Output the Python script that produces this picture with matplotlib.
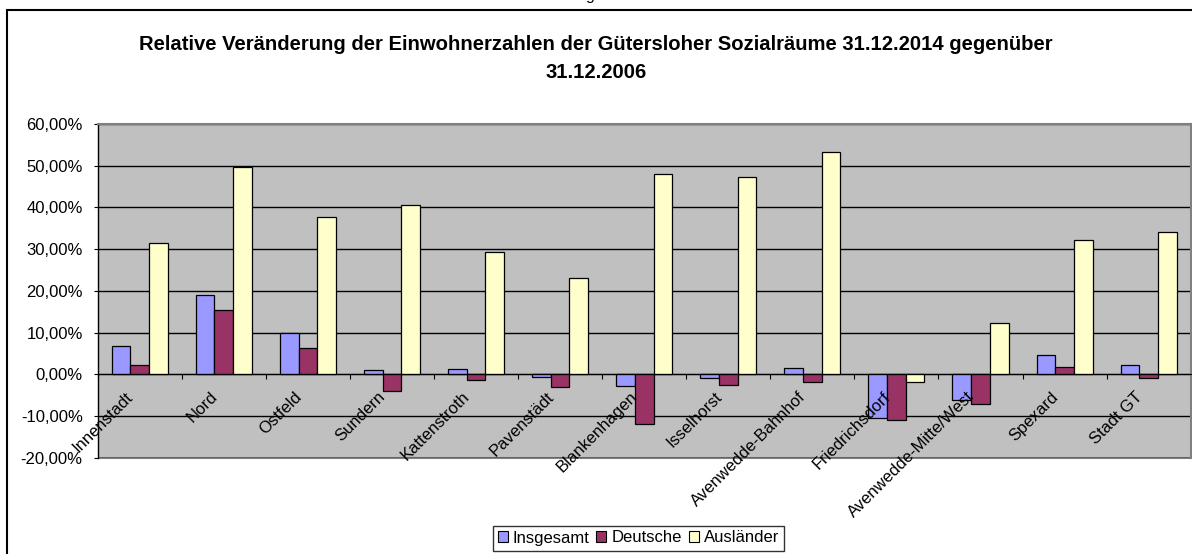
import matplotlib
matplotlib.use("Agg")
import matplotlib.pyplot as plt
from matplotlib.patches import Patch, Rectangle
from matplotlib.ticker import FuncFormatter, FixedLocator
from matplotlib.transforms import offset_copy
import numpy as np

plt.rcParams['font.family'] = ['Liberation Sans', 'DejaVu Sans']

categories = ["Innenstadt", "Nord", "Ostfeld", "Sundern", "Kattenstroth",
              "Pavenstädt", "Blankenhagen", "Isselhorst", "Avenwedde-Bahnhof",
              "Friedrichsdorf", "Avenwedde-Mitte/West", "Spexard", "Stadt GT"]
insgesamt = [6.8, 18.9, 9.9, 1.0, 1.3, -0.6, -2.7, -0.9, 1.6, -10.6, -6.2, 4.6, 2.2]
deutsche = [2.2, 15.5, 6.2, -4.1, -1.4, -3.0, -12.0, -2.5, -1.8, -10.9, -7.1, 1.8, -0.9]
auslaender = [31.5, 49.7, 37.7, 40.7, 29.3, 23.1, 47.9, 47.2, 53.4, -1.8, 12.4, 32.1, 34.0]
series_names = ["Insgesamt", "Deutsche", "Ausländer"]
series_colors = ["#9999FF", "#993366", "#FFFFCC"]
y_ticks = [-20, -10, 0, 10, 20, 30, 40, 50, 60]

W, H = 1192, 554
FS = 12
fig = plt.figure(figsize=(W / 100, H / 100), dpi=100)

# outer chart frame (runs off the right and bottom edges)
fig.patches.append(Rectangle((7 / W, -0.05), 1.1, 1 - 10 / H + 0.05,
                             transform=fig.transFigure, fill=False,
                             edgecolor="black", linewidth=1.5, clip_on=False))

# descender of the caption line above the chart
fig.text(590 / W, 1.0, "g", ha="center", va="baseline", fontsize=11.5)

left, right = 97.7 / W, 1190.7 / W
bottom, top = 1 - 457.7 / H, 1 - 124 / H
ax = fig.add_axes([left, bottom, right - left, top - bottom])
ax.set_facecolor("#C0C0C0")

x = np.arange(len(categories))
bw = 1 / 4.5
for k, (vals, col) in enumerate(zip([insgesamt, deutsche, auslaender], series_colors)):
    ax.bar(x + (k - 1) * bw, vals, width=bw, color=col, edgecolor="black",
           linewidth=0.9, zorder=3)

ax.set_xlim(-0.5, len(categories) - 0.5)
ax.set_ylim(-20, 60)
ax.yaxis.set_major_locator(FixedLocator(y_ticks))
ax.yaxis.set_major_formatter(FuncFormatter(lambda v, p: f"{v:.2f}%".replace(".", ",")))
ax.grid(axis="y", color="black", linewidth=1.0, zorder=1)
ax.tick_params(axis="y", direction="out", length=4.5 * 0.72, width=0.8,
               labelsize=FS, pad=7.6, colors="black")

# category axis crossing at zero, ticks between groups
ax.spines["bottom"].set_position(("data", 0))
ax.spines["bottom"].set_zorder(4)
ax.set_xticks(np.arange(-0.5, len(categories) + 0.5, 1.0))
ax.set_xticklabels([])
ax.tick_params(axis="x", direction="out", length=5 * 0.72, width=0.8)
for s in ["top", "right"]:
    ax.spines[s].set_color("#808080")
    ax.spines[s].set_linewidth(1.5)
ax.spines["left"].set_linewidth(1.0)
ax.add_patch(Rectangle((0, 0), 1, 0, transform=ax.transAxes, fill=False,
                       edgecolor="#808080", linewidth=1.5, clip_on=False))

# rotated category names below the zero line
for i, name in enumerate(categories):
    tr = offset_copy(ax.transData, fig=fig, x=-9, y=-20, units="dots")
    ax.text(i, 0, name, transform=tr, rotation=45, rotation_mode="anchor",
            ha="right", va="center", fontsize=FS, zorder=5, clip_on=False)

fig.text(0.5, 1 - 44 / H,
         "Relative Veränderung der Einwohnerzahlen der Gütersloher Sozialräume 31.12.2014 gegenüber",
         ha="center", va="center", fontsize=14.6, fontweight="bold")
fig.text(0.5, 1 - 72 / H, "31.12.2006", ha="center", va="center",
         fontsize=14.6, fontweight="bold")

handles = [Patch(facecolor=c, edgecolor="black", linewidth=0.8, label=n)
           for c, n in zip(series_colors, series_names)]
leg = fig.legend(handles=handles, loc="center", bbox_to_anchor=(638.4 / W, 1 - 538 / H),
                 ncol=3, fontsize=FS, frameon=True, fancybox=False,
                 handlelength=0.6, handleheight=0.6, handletextpad=0.3,
                 columnspacing=0.4, borderpad=0.3, borderaxespad=0)
leg.get_frame().set_edgecolor("black")
leg.get_frame().set_linewidth(1.0)

fig.savefig("out.png", dpi=100, facecolor="white")
